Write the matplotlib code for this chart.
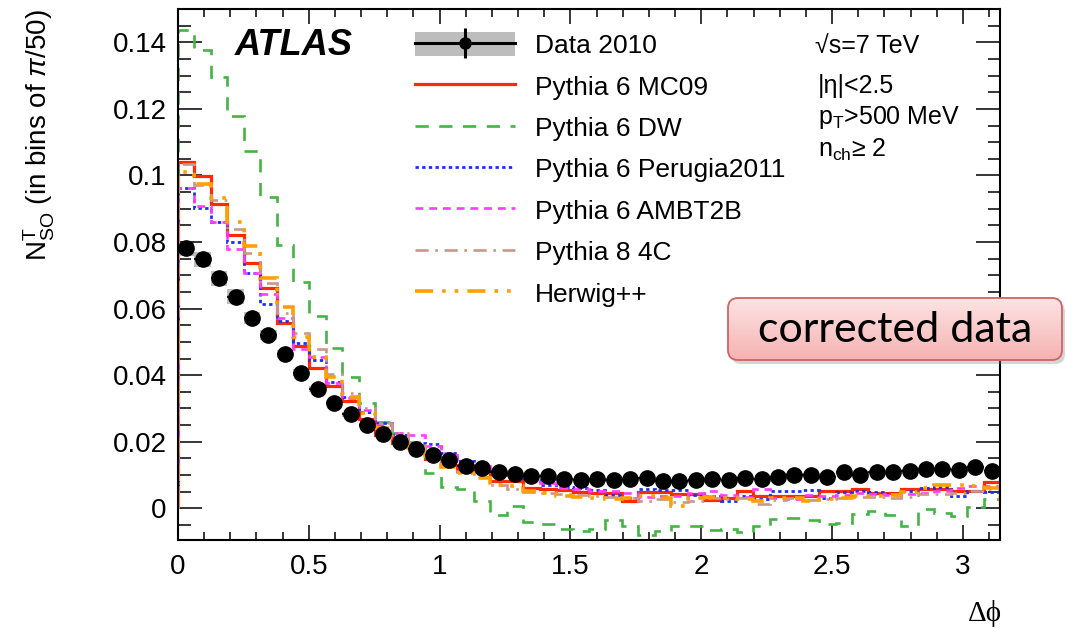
import numpy as np
import matplotlib
matplotlib.use("Agg")
import matplotlib.pyplot as plt
from matplotlib.patches import FancyBboxPatch, Patch
from matplotlib.lines import Line2D
from matplotlib.legend_handler import HandlerTuple
from matplotlib.ticker import MultipleLocator, FuncFormatter

plt.rcParams['font.family'] = ['Liberation Sans', 'DejaVu Sans']
plt.rcParams['mathtext.fontset'] = 'custom'
plt.rcParams['mathtext.rm'] = 'Liberation Sans'
plt.rcParams['mathtext.it'] = 'Liberation Sans:italic'
plt.rcParams['mathtext.bf'] = 'Liberation Sans:bold'

# 50 bins of pi/50 in delta phi
n_bins = 50
edges = np.linspace(0, np.pi, n_bins + 1)
centers = 0.5 * (edges[1:] + edges[:-1])
half_width = 0.5 * np.diff(edges)

data_2010 = np.array([
    0.0781, 0.0748, 0.0691, 0.0636, 0.0571, 0.0521, 0.0464, 0.0408, 0.0358, 0.0318,
    0.0282, 0.0250, 0.0222, 0.0198, 0.0179, 0.0161, 0.0146, 0.0126, 0.0121, 0.0108,
    0.0103, 0.0096, 0.0098, 0.0088, 0.0086, 0.0088, 0.0086, 0.0088, 0.0091, 0.0083,
    0.0081, 0.0086, 0.0089, 0.0085, 0.0091, 0.0088, 0.0094, 0.0101, 0.0101, 0.0094,
    0.0108, 0.0101, 0.0108, 0.0109, 0.0113, 0.0118, 0.0118, 0.0116, 0.0123, 0.0113])
data_syst = np.array([
    0.0023, 0.0023, 0.0023, 0.0022, 0.0018, 0.0015, 0.0012, 0.0010, 0.0009, 0.0008,
    0.0007, 0.0006, 0.0006, 0.0005, 0.0005, 0.0004, 0.0004, 0.0004, 0.0004, 0.0004,
    0.0004, 0.0004, 0.0004, 0.0004, 0.0004, 0.0004, 0.0004, 0.0004, 0.0004, 0.0004,
    0.0004, 0.0004, 0.0004, 0.0004, 0.0004, 0.0004, 0.0004, 0.0004, 0.0004, 0.0004,
    0.0004, 0.0004, 0.0004, 0.0004, 0.0004, 0.0004, 0.0004, 0.0004, 0.0004, 0.0004])

py6_mc09 = [
    0.1041, 0.0998, 0.0915, 0.0821, 0.0737, 0.0662, 0.0558, 0.0489, 0.0423, 0.0368,
    0.0322, 0.0268, 0.0221, 0.0196, 0.0186, 0.0147, 0.0131, 0.0112, 0.0113, 0.0083,
    0.0083, 0.0061, 0.0058, 0.0056, 0.0048, 0.0046, 0.0046, 0.0021, 0.0049, 0.0049,
    0.0044, 0.0044, 0.0024, 0.0031, 0.0051, 0.0036, 0.0036, 0.0036, 0.0036, 0.0051,
    0.0051, 0.0059, 0.0046, 0.0046, 0.0059, 0.0059, 0.0059, 0.0051, 0.0051, 0.0079]
py6_dw = [
    0.1438, 0.1378, 0.1296, 0.1178, 0.1074, 0.0936, 0.0791, 0.0679, 0.0578, 0.0481,
    0.0394, 0.0318, 0.0258, 0.0225, 0.0200, 0.0107, 0.0064, 0.0058, 0.0021, -0.0019,
    0.0008, -0.0042, -0.0046, -0.0062, -0.0067, -0.0062, -0.0034, -0.0054, -0.0079, -0.0067,
    -0.0052, -0.0054, -0.0064, -0.0062, -0.0072, -0.0054, -0.0031, -0.0028, -0.0034, -0.0047,
    -0.0043, -0.0017, -0.0007, -0.0021, -0.0054, -0.0002, -0.0014, -0.0024, 0.0004, 0.0028]
py6_perugia = [
    0.0961, 0.0903, 0.0861, 0.0801, 0.0708, 0.0614, 0.0562, 0.0496, 0.0446, 0.0381,
    0.0336, 0.0288, 0.0256, 0.0221, 0.0196, 0.0193, 0.0166, 0.0141, 0.0126, 0.0111,
    0.0096, 0.0086, 0.0071, 0.0064, 0.0061, 0.0056, 0.0040, 0.0031, 0.0058, 0.0054,
    0.0056, 0.0041, 0.0038, 0.0023, 0.0038, 0.0028, 0.0053, 0.0053, 0.0054, 0.0031,
    0.0049, 0.0053, 0.0048, 0.0044, 0.0051, 0.0061, 0.0063, 0.0036, 0.0051, 0.0048]
py6_ambt2b = [
    0.0961, 0.0908, 0.0859, 0.0778, 0.0708, 0.0644, 0.0573, 0.0480, 0.0456, 0.0376,
    0.0333, 0.0296, 0.0251, 0.0226, 0.0221, 0.0186, 0.0166, 0.0141, 0.0126, 0.0111,
    0.0101, 0.0088, 0.0076, 0.0061, 0.0058, 0.0051, 0.0053, 0.0046, 0.0034, 0.0038,
    0.0036, 0.0046, 0.0051, 0.0040, 0.0034, 0.0058, 0.0030, 0.0028, 0.0041, 0.0036,
    0.0041, 0.0046, 0.0044, 0.0041, 0.0044, 0.0046, 0.0051, 0.0061, 0.0066, 0.0066]
py8_4c = [
    0.1035, 0.0972, 0.0925, 0.0840, 0.0767, 0.0677, 0.0586, 0.0526, 0.0478, 0.0403,
    0.0346, 0.0301, 0.0256, 0.0226, 0.0200, 0.0152, 0.0128, 0.0108, 0.0094, 0.0070,
    0.0058, 0.0050, 0.0046, 0.0042, 0.0040, 0.0038, 0.0034, 0.0030, 0.0021, 0.0028,
    0.0018, 0.0022, 0.0030, 0.0028, 0.0032, 0.0014, 0.0026, 0.0030, 0.0026, 0.0028,
    0.0030, 0.0034, 0.0034, 0.0032, 0.0034, 0.0042, 0.0044, 0.0046, 0.0052, 0.0058]
herwig = [
    0.1011, 0.0973, 0.0931, 0.0859, 0.0788, 0.0692, 0.0605, 0.0516, 0.0456, 0.0396,
    0.0336, 0.0286, 0.0240, 0.0210, 0.0180, 0.0141, 0.0125, 0.0105, 0.0090, 0.0071,
    0.0066, 0.0052, 0.0046, 0.0038, 0.0034, 0.0031, 0.0028, 0.0032, 0.0036, 0.0030,
    0.0008, 0.0030, 0.0034, 0.0030, 0.0028, 0.0021, 0.0030, 0.0032, 0.0023, 0.0028,
    0.0032, 0.0036, 0.0038, 0.0040, 0.0050, 0.0060, 0.0071, 0.0071, 0.0066, 0.0061]

mc_labels = ["Pythia 6 MC09", "Pythia 6 DW", "Pythia 6 Perugia2011",
             "Pythia 6 AMBT2B", "Pythia 8 4C", "Herwig++"]
mc_values = [py6_mc09, py6_dw, py6_perugia, py6_ambt2b, py8_4c, herwig]
mc_colors = ["#ff2a00", "#44b444", "#1a2eff", "#ff3cff", "#c89888", "#ffa000"]
mc_widths = [2.3, 1.9, 2.0, 1.9, 1.9, 2.6]
mc_styles = ["-", (0, (5, 4)), (0, (1.2, 1.2)), (0, (3, 2.2)),
             (0, (5, 2.5, 1, 2.5)), (0, (5, 2.5, 1, 2.5, 1, 2.5))]

fig = plt.figure(figsize=(10.67, 6.29), dpi=100)
ax = fig.add_axes([0.1668, 0.1415, 0.7704, 0.8442])

ax.bar(centers, 2 * data_syst, bottom=data_2010 - data_syst, width=np.diff(edges),
       color="#bdbdbd", linewidth=0, zorder=1)

for vals, col, lw, ls in zip(mc_values, mc_colors, mc_widths, mc_styles):
    ax.stairs(vals, edges, color=col, linewidth=lw, linestyle=ls, zorder=2)

ax.errorbar(centers, data_2010, xerr=half_width, fmt="o", color="k", ms=11,
            elinewidth=1.2, capsize=0, zorder=5)

ax.set_xlim(0, np.pi)
ax.set_ylim(-0.0095, 0.15)
ax.xaxis.set_major_locator(MultipleLocator(0.5))
ax.xaxis.set_minor_locator(MultipleLocator(0.1))
ax.yaxis.set_major_locator(MultipleLocator(0.02))
ax.yaxis.set_minor_locator(MultipleLocator(0.005))
fmt = FuncFormatter(lambda v, p: "%g" % round(v, 4))
ax.xaxis.set_major_formatter(fmt)
ax.yaxis.set_major_formatter(fmt)
ax.tick_params(which="both", direction="in", top=True, right=True, width=1.1,
               labelsize=20)
ax.tick_params(axis="x", which="major", length=11, pad=10)
ax.tick_params(axis="x", which="minor", length=6)
ax.tick_params(axis="y", which="major", length=17, pad=8)
ax.tick_params(axis="y", which="minor", length=9)
for sp in ax.spines.values():
    sp.set_linewidth(1.5)

# legend
data_handle = (Patch(facecolor="#bdbdbd", edgecolor="none"),
               Line2D([], [], color="k", lw=2.2),
               Line2D([], [], ls="none", marker="o", ms=8, color="k"),
               Line2D([], [], ls="none", marker="|", ms=22, mew=2.2, color="k"))
handles = [data_handle] + [Line2D([], [], color=c, lw=w, ls=s)
                           for c, w, s in zip(mc_colors, mc_widths, mc_styles)]
labels = ["Data 2010"] + mc_labels
ax.legend(handles, labels, loc="upper left", bbox_to_anchor=(0.288, 0.956),
          frameon=False, fontsize=19, borderpad=0, borderaxespad=0,
          handlelength=3.8, handleheight=1.0, handletextpad=0.75,
          labelspacing=0.59, handler_map={tuple: HandlerTuple(ndivide=1)})

ax.text(0.069, 0.932, "ATLAS", transform=ax.transAxes, fontsize=26,
        fontweight="bold", fontstyle="italic", ha="left", va="center")

ax.text(0.775, 0.930, "√s=7 TeV", transform=ax.transAxes, fontsize=18,
        ha="left", va="center")
ax.text(0.778, 0.855, "|η|<2.5", transform=ax.transAxes, fontsize=18,
        ha="left", va="center")
ax.text(0.778, 0.796, r"p$_{\rm T}$>500 MeV", transform=ax.transAxes, fontsize=18,
        ha="left", va="center")
ax.text(0.778, 0.735, r"n$_{\rm ch}$≥ 2", transform=ax.transAxes, fontsize=18,
        ha="left", va="center")

fig.text(0.037, 0.985, r"N$^{\rm T}_{\rm SO}$ (in bins of $\pi$/50)", rotation=90,
         fontsize=20, ha="center", va="top")
fig.text(0.923, 0.025, "Δϕ", fontsize=21, ha="center", va="center",
         family=["Liberation Serif", "DejaVu Serif"])

# "corrected data" tag
bax = fig.add_axes([722 / 1067, 261 / 629, 346 / 1067, 76 / 629])
bax.set_xlim(-6, 340)
bax.set_ylim(-8, 68)
bax.axis("off")
shadow = FancyBboxPatch((3, -4), 334, 62, boxstyle="round,pad=0,rounding_size=10",
                        facecolor="#888888", edgecolor="none", alpha=0.35)
bax.add_patch(shadow)
box = FancyBboxPatch((0, 0), 334, 62, boxstyle="round,pad=0,rounding_size=10",
                     facecolor="none", edgecolor="#d06464", linewidth=1.3, zorder=3)
bax.add_patch(box)
grad = np.linspace(0, 1, 64).reshape(-1, 1)
top = np.array([0.995, 0.89, 0.89])
bot = np.array([0.96, 0.70, 0.70])
img = top + (bot - top) * grad[:, :, None]
im = bax.imshow(img, extent=[0, 334, 0, 62], origin="upper", aspect="auto", zorder=2)
im.set_clip_path(box)
bax.text(167, 30, "corrected data", fontsize=31, family=["Lato", "DejaVu Sans"],
         ha="center", va="center", zorder=4)

fig.savefig("out.png", dpi=100)
